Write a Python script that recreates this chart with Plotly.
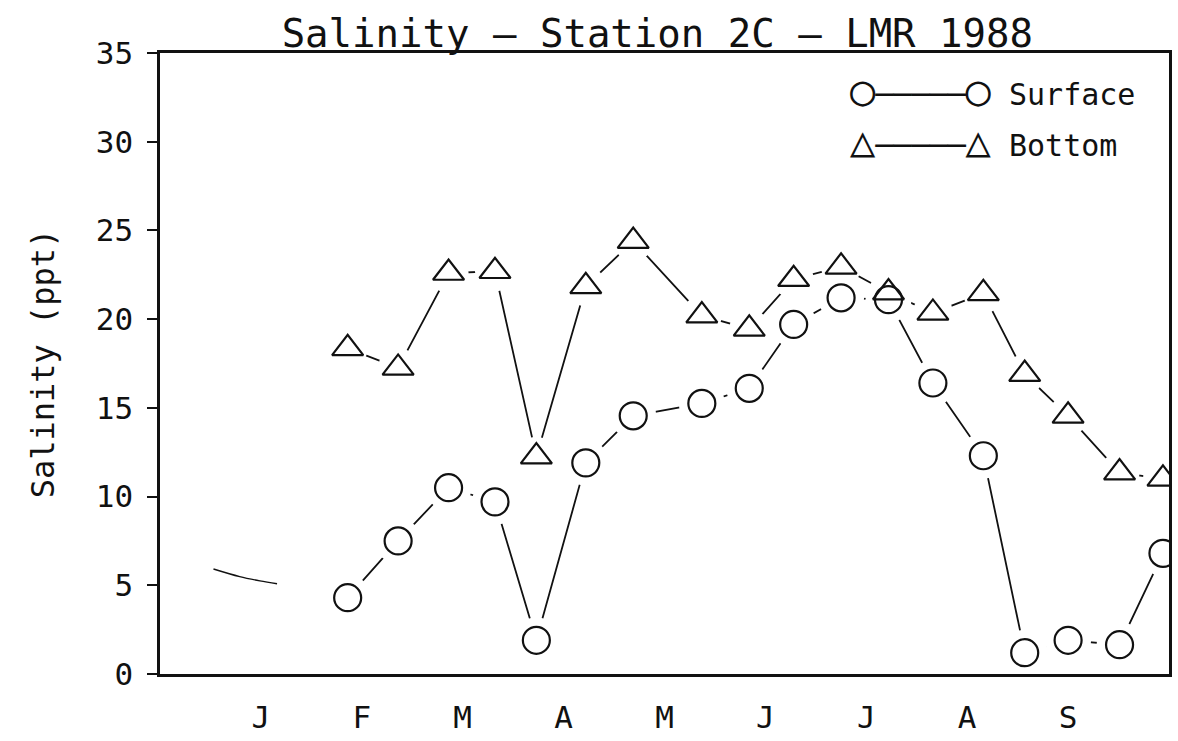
import plotly.graph_objects as go

# ---- data (x in month units: 1=J, 2=F, ... 9=S) ----
month_labels = ["J", "F", "M", "A", "M", "J", "J", "A", "S"]
month_ticks = [1, 2, 3, 4, 5, 6, 7, 8, 9]

sample_pos = [1.86, 2.36, 2.86, 3.32, 3.73, 4.22, 4.69, 5.37, 5.84,
              6.28, 6.75, 7.22, 7.66, 8.16, 8.57, 9.00, 9.51, 9.94]
surface = [4.3, 7.5, 10.5, 9.7, 1.9, 11.9, 14.55, 15.25, 16.1,
           19.7, 21.2, 21.1, 16.4, 12.3, 1.2, 1.9, 1.65, 6.8]
bottom = [18.35, 17.25, 22.6, 22.7, 12.25, 21.85, 24.4, 20.2, 19.45,
          22.25, 22.95, 21.5, 20.35, 21.45, 16.9, 14.55, 11.35, 11.0]

# stray partial curve near January
stray_x = [0.53, 0.79, 0.99, 1.16]
stray_y = [5.92, 5.49, 5.25, 5.09]

FONT = "DejaVu Sans Mono, DejaVu Sans"
BLACK = "#111111"

fig = go.Figure()

# connecting lines
fig.add_trace(go.Scatter(x=sample_pos, y=surface, mode="lines",
                         line=dict(color=BLACK, width=1.8), showlegend=False, hoverinfo="skip"))
fig.add_trace(go.Scatter(x=sample_pos, y=bottom, mode="lines",
                         line=dict(color=BLACK, width=1.8), showlegend=False, hoverinfo="skip"))
fig.add_trace(go.Scatter(x=stray_x, y=stray_y, mode="lines", line_shape="spline",
                         line=dict(color=BLACK, width=1.4), showlegend=False, hoverinfo="skip"))

# white masks so the lines stop short of the symbols
fig.add_trace(go.Scatter(x=sample_pos, y=surface, mode="markers",
                         marker=dict(symbol="circle", size=46, color="white", line=dict(width=0)),
                         showlegend=False, hoverinfo="skip"))
fig.add_trace(go.Scatter(x=sample_pos, y=bottom, mode="markers",
                         marker=dict(symbol="circle", size=40, color="white", line=dict(width=0)),
                         showlegend=False, hoverinfo="skip"))

# symbols
fig.add_trace(go.Scatter(x=sample_pos, y=surface, mode="markers", name="Surface",
                         marker=dict(symbol="circle", size=27, color="rgba(255,255,255,0)",
                                     line=dict(color=BLACK, width=2.2)),
                         showlegend=False))
fig.add_trace(go.Scatter(x=sample_pos, y=bottom, mode="markers", name="Bottom",
                         marker=dict(symbol="triangle-up", size=27, color="rgba(255,255,255,0)",
                                     line=dict(color=BLACK, width=2.2)),
                         showlegend=False))

# legend as text rows
big = "<span style='font-size:42px'>{}</span>"
fig.add_annotation(xref="paper", yref="paper", x=0.968, y=0.94, xanchor="right", yanchor="middle",
                   text=big.format("○") + "─────" + big.format("○") + " Surface",
                   showarrow=False, font=dict(family=FONT, size=30, color=BLACK))
fig.add_annotation(xref="paper", yref="paper", x=0.968, y=0.858, xanchor="right", yanchor="middle",
                   text=big.format("△") + "─────" + big.format("△") + " Bottom ",
                   showarrow=False, font=dict(family=FONT, size=30, color=BLACK))

fig.update_layout(
    width=1178, height=741,
    margin=dict(l=160, r=6, t=53, b=57),
    paper_bgcolor="white", plot_bgcolor="white",
    title=dict(text="Salinity – Station 2C – LMR 1988", x=0.558, xanchor="center",
               y=0.955, yanchor="middle", yref="container",
               font=dict(family=FONT, size=39, color=BLACK)),
    font=dict(family=FONT, color=BLACK),
    showlegend=False,
    xaxis=dict(range=[0, 10], tickmode="array", tickvals=month_ticks, ticktext=month_labels,
               ticks="", showgrid=False, zeroline=False, showline=True, mirror=True,
               linecolor=BLACK, linewidth=2.5,
               tickfont=dict(family=FONT, size=31, color=BLACK), ticklabelstandoff=14),
    yaxis=dict(range=[0, 35], tickmode="linear", tick0=0, dtick=5, ticks="outside", ticklen=10,
               tickwidth=2, tickcolor=BLACK, showgrid=False, zeroline=False, showline=True,
               mirror=True, linecolor=BLACK, linewidth=2.5,
               tickfont=dict(family=FONT, size=31, color=BLACK), ticklabelstandoff=8,
               title=dict(text="Salinity (ppt)", standoff=32,
                          font=dict(family=FONT, size=32, color=BLACK))),
    yaxis2=dict(overlaying="y", matches="y", anchor="x", side="left", range=[0, 35],
                tickmode="linear", tick0=0, dtick=5, ticks="inside", ticklen=9, tickwidth=2,
                tickcolor=BLACK, showticklabels=False, showgrid=False, zeroline=False,
                showline=False),
)

fig.write_html("out.html", config={"displayModeBar": False},
               post_script="document.body.style.margin='0';document.body.style.overflow='hidden';")
